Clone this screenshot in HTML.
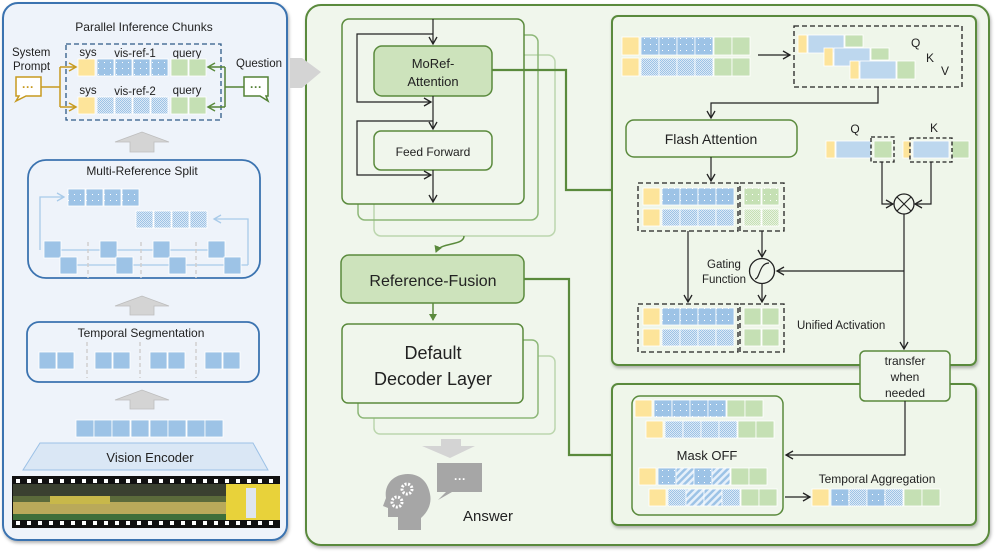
<!DOCTYPE html>
<html><head><meta charset="utf-8"><style>
html,body{margin:0;padding:0;background:#fff;}
svg{display:block;font-family:"Liberation Sans",sans-serif;}
</style></head><body>
<svg width="997" height="554" viewBox="0 0 997 554" xmlns="http://www.w3.org/2000/svg">
<defs>
<pattern id="pd" width="6" height="6" patternUnits="userSpaceOnUse"><rect width="6" height="6" fill="#9dc3e6"/><rect x="2" y="2" width="1" height="1" fill="#fff"/></pattern>
<pattern id="pc" width="2" height="2" patternUnits="userSpaceOnUse"><rect width="2" height="2" fill="#dce9f6"/><rect width="1" height="1" fill="#9dc3e6"/><rect x="1" y="1" width="1" height="1" fill="#9dc3e6"/></pattern>
<pattern id="ph" width="5" height="5" patternUnits="userSpaceOnUse" patternTransform="rotate(45)"><rect width="5" height="5" fill="#e6f0fa"/><rect width="2.5" height="5" fill="#9dc3e6"/></pattern>
<pattern id="gd" width="6" height="6" patternUnits="userSpaceOnUse"><rect width="6" height="6" fill="#c5e0b4"/><rect x="2" y="2" width="1" height="1" fill="#fff"/></pattern>
<pattern id="gc" width="2" height="2" patternUnits="userSpaceOnUse"><rect width="2" height="2" fill="#e8f2e0"/><rect width="1" height="1" fill="#c5e0b4"/><rect x="1" y="1" width="1" height="1" fill="#c5e0b4"/></pattern>
<marker id="ak" markerWidth="10" markerHeight="10" refX="8" refY="5" orient="auto" markerUnits="userSpaceOnUse"><path d="M1,1 L8,5 L1,9" fill="none" stroke="#222" stroke-width="1.3"/></marker>
<marker id="ao" markerWidth="10" markerHeight="10" refX="8" refY="5" orient="auto" markerUnits="userSpaceOnUse"><path d="M1,1 L8,5 L1,9" fill="none" stroke="#c79a1f" stroke-width="1.5"/></marker>
<marker id="ag" markerWidth="10" markerHeight="10" refX="8" refY="5" orient="auto" markerUnits="userSpaceOnUse"><path d="M1,1 L8,5 L1,9" fill="none" stroke="#5a8a3c" stroke-width="1.5"/></marker>
<marker id="ab" markerWidth="10" markerHeight="10" refX="8" refY="5" orient="auto" markerUnits="userSpaceOnUse"><path d="M1,1 L8,5 L1,9" fill="none" stroke="#a9cbe9" stroke-width="1.3"/></marker>
<marker id="agf" markerWidth="8" markerHeight="8" refX="6" refY="4" orient="auto" markerUnits="userSpaceOnUse"><path d="M0,0 L7,4 L0,8 z" fill="#5a8a3c"/></marker>
<filter id="sh" x="-5%" y="-5%" width="110%" height="110%"><feDropShadow dx="1" dy="2" stdDeviation="1.5" flood-color="#000" flood-opacity="0.3"/></filter>
</defs>

<!-- LEFT PANEL -->
<rect x="3" y="3" width="284" height="537" rx="15" fill="#eef3fa" stroke="#3b73b0" stroke-width="2" filter="url(#sh)"/>
<text x="144" y="31" font-size="12" text-anchor="middle" fill="#222">Parallel Inference Chunks</text>
<rect x="66" y="44" width="155" height="76" fill="none" stroke="#2e5a87" stroke-width="1.3" stroke-dasharray="5,3"/>
<g font-size="11.5" fill="#222">
<text x="88" y="56" text-anchor="middle">sys</text><text x="135" y="57" text-anchor="middle">vis-ref-1</text><text x="187" y="57" text-anchor="middle">query</text>
<text x="88" y="94" text-anchor="middle">sys</text><text x="135" y="95" text-anchor="middle">vis-ref-2</text><text x="187" y="94" text-anchor="middle">query</text>
</g>
<g stroke="#fff" stroke-width="0.8">
<rect x="78" y="59" width="17" height="17" fill="#fde49a"/>
<rect x="97" y="59" width="17" height="17" fill="url(#pd)"/><rect x="115" y="59" width="17" height="17" fill="url(#pd)"/><rect x="133" y="59" width="17" height="17" fill="url(#pd)"/><rect x="151" y="59" width="17" height="17" fill="url(#pd)"/>
<rect x="171" y="59" width="17" height="17" fill="#c5e0b4"/><rect x="189" y="59" width="17" height="17" fill="#c5e0b4"/>
<rect x="78" y="97" width="17" height="17" fill="#fde49a"/>
<rect x="97" y="97" width="17" height="17" fill="url(#pc)"/><rect x="115" y="97" width="17" height="17" fill="url(#pc)"/><rect x="133" y="97" width="17" height="17" fill="url(#pc)"/><rect x="151" y="97" width="17" height="17" fill="url(#pc)"/>
<rect x="171" y="97" width="17" height="17" fill="#c5e0b4"/><rect x="189" y="97" width="17" height="17" fill="#c5e0b4"/>
</g>
<text x="12" y="56" font-size="11.5" fill="#222">System</text>
<text x="13" y="70" font-size="11.5" fill="#222">Prompt</text>
<path d="M16,77 H41 V96 H26 L16,101 L19,96 H16 Z" fill="#fff" stroke="#c79a1f" stroke-width="1.5"/>
<text x="28" y="91" font-size="12" font-weight="bold" fill="#c79a1f" text-anchor="middle">···</text>
<path d="M41,87 H60 M60,67 V107" stroke="#c79a1f" stroke-width="1.5" fill="none"/>
<path d="M60,67 H76" stroke="#c79a1f" stroke-width="1.5" marker-end="url(#ao)"/>
<path d="M60,107 H76" stroke="#c79a1f" stroke-width="1.5" marker-end="url(#ao)"/>
<text x="236" y="67" font-size="11.5" fill="#222">Question</text>
<path d="M268,77 H244 V96 H260 L268,101 L266,96 H268 Z" fill="#fff" stroke="#548235" stroke-width="1.5"/>
<text x="256" y="91" font-size="12" font-weight="bold" fill="#548235" text-anchor="middle">···</text>
<path d="M244,87 H225 M225,67 V107" stroke="#548235" stroke-width="1.5" fill="none"/>
<path d="M225,67 H208" stroke="#548235" stroke-width="1.5" marker-end="url(#ag)"/>
<path d="M225,107 H208" stroke="#548235" stroke-width="1.5" marker-end="url(#ag)"/>

<!-- gray arrows -->
<g fill="#d4d4d4" stroke="#bdbdbd" stroke-width="0.8">
<path d="M115,142 L142,132 L169,142 H154 V152 H130 V142 Z"/>
<path d="M115,306 L142,296 L169,306 H154 V315 H130 V306 Z"/>
<path d="M115,400 L142,390 L169,400 H154 V409 H130 V400 Z"/>
</g>

<!-- Multi-Reference Split -->
<rect x="28" y="160" width="232" height="118" rx="18" fill="#eef3fa" stroke="#3b73b0" stroke-width="1.8"/>
<text x="142" y="175" font-size="12" text-anchor="middle" fill="#222">Multi-Reference Split</text>
<g stroke="#a9cbe9" stroke-width="1.3" fill="none">
<path d="M40,250 V197 H64" marker-end="url(#ab)"/>
<path d="M248,265 V219 H214" marker-end="url(#ab)"/>
<path d="M44,250 H225 M60,265 H248"/>
</g>
<g stroke="#d0d0d0" stroke-width="1.5" stroke-dasharray="4,3"><path d="M88,242 V278 M141,242 V278 M196,242 V278"/></g>
<g stroke="#fff" stroke-width="0.8">
<rect x="68" y="189" width="17" height="17" fill="url(#pd)"/><rect x="86" y="189" width="17" height="17" fill="url(#pd)"/><rect x="104" y="189" width="17" height="17" fill="url(#pd)"/><rect x="122" y="189" width="17" height="17" fill="url(#pd)"/>
<rect x="136" y="211" width="17" height="17" fill="url(#pc)"/><rect x="154" y="211" width="17" height="17" fill="url(#pc)"/><rect x="172" y="211" width="17" height="17" fill="url(#pc)"/><rect x="190" y="211" width="17" height="17" fill="url(#pc)"/>
<g fill="#9dc3e6">
<rect x="44" y="241" width="17" height="17"/><rect x="100" y="241" width="17" height="17"/><rect x="153" y="241" width="17" height="17"/><rect x="208" y="241" width="17" height="17"/>
<rect x="60" y="257" width="17" height="17"/><rect x="116" y="257" width="17" height="17"/><rect x="169" y="257" width="17" height="17"/><rect x="224" y="257" width="17" height="17"/>
</g></g>

<!-- Temporal Segmentation -->
<rect x="27" y="322" width="232" height="60" rx="12" fill="#eef3fa" stroke="#3b73b0" stroke-width="1.8"/>
<text x="141" y="337" font-size="12" text-anchor="middle" fill="#222">Temporal Segmentation</text>
<g stroke="#d0d0d0" stroke-width="1.5" stroke-dasharray="4,3"><path d="M87,342 V378 M140,342 V378 M196,342 V378"/></g>
<g stroke="#fff" stroke-width="0.8" fill="#9dc3e6">
<rect x="39" y="352" width="17" height="17"/><rect x="57" y="352" width="17" height="17"/>
<rect x="95" y="352" width="17" height="17"/><rect x="113" y="352" width="17" height="17"/>
<rect x="150" y="352" width="17" height="17"/><rect x="168" y="352" width="17" height="17"/>
<rect x="205" y="352" width="17" height="17"/><rect x="223" y="352" width="17" height="17"/>
<rect x="76" y="420" width="18" height="17"/><rect x="94" y="420" width="18" height="17"/><rect x="112" y="420" width="18" height="17"/><rect x="131" y="420" width="18" height="17"/><rect x="150" y="420" width="18" height="17"/><rect x="168" y="420" width="18" height="17"/><rect x="187" y="420" width="18" height="17"/><rect x="205" y="420" width="18" height="17"/>
</g>
<path d="M40,443 H253 L268,470 H23 Z" fill="#dae7f5" stroke="#9cc1e6" stroke-width="1"/>
<text x="150" y="462" font-size="13" text-anchor="middle" fill="#222">Vision Encoder</text>
<!-- film strip -->
<rect x="12" y="476" width="268" height="52" fill="#111"/>
<rect x="13" y="484" width="213" height="36" fill="#5b6a3b"/>
<rect x="13" y="484" width="213" height="12" fill="#3a4030"/>
<rect x="13" y="502" width="213" height="12" fill="#b9a95a"/>
<rect x="50" y="496" width="60" height="8" fill="#c8b84a"/>
<rect x="13" y="514" width="213" height="6" fill="#3e6e3a"/>
<rect x="226" y="484" width="54" height="36" fill="#e8d23a"/>
<rect x="246" y="488" width="10" height="30" fill="#dfe6ee"/>
<g fill="#fff">
<rect x="16" y="479" width="4" height="4"/><rect x="27" y="479" width="4" height="4"/><rect x="38" y="479" width="4" height="4"/><rect x="49" y="479" width="4" height="4"/><rect x="60" y="479" width="4" height="4"/><rect x="71" y="479" width="4" height="4"/><rect x="82" y="479" width="4" height="4"/><rect x="93" y="479" width="4" height="4"/><rect x="104" y="479" width="4" height="4"/><rect x="115" y="479" width="4" height="4"/><rect x="126" y="479" width="4" height="4"/><rect x="137" y="479" width="4" height="4"/><rect x="148" y="479" width="4" height="4"/><rect x="159" y="479" width="4" height="4"/><rect x="170" y="479" width="4" height="4"/><rect x="181" y="479" width="4" height="4"/><rect x="192" y="479" width="4" height="4"/><rect x="203" y="479" width="4" height="4"/><rect x="214" y="479" width="4" height="4"/><rect x="225" y="479" width="4" height="4"/><rect x="236" y="479" width="4" height="4"/><rect x="247" y="479" width="4" height="4"/><rect x="258" y="479" width="4" height="4"/><rect x="269" y="479" width="4" height="4"/>
<rect x="16" y="521" width="4" height="4"/><rect x="27" y="521" width="4" height="4"/><rect x="38" y="521" width="4" height="4"/><rect x="49" y="521" width="4" height="4"/><rect x="60" y="521" width="4" height="4"/><rect x="71" y="521" width="4" height="4"/><rect x="82" y="521" width="4" height="4"/><rect x="93" y="521" width="4" height="4"/><rect x="104" y="521" width="4" height="4"/><rect x="115" y="521" width="4" height="4"/><rect x="126" y="521" width="4" height="4"/><rect x="137" y="521" width="4" height="4"/><rect x="148" y="521" width="4" height="4"/><rect x="159" y="521" width="4" height="4"/><rect x="170" y="521" width="4" height="4"/><rect x="181" y="521" width="4" height="4"/><rect x="192" y="521" width="4" height="4"/><rect x="203" y="521" width="4" height="4"/><rect x="214" y="521" width="4" height="4"/><rect x="225" y="521" width="4" height="4"/><rect x="236" y="521" width="4" height="4"/><rect x="247" y="521" width="4" height="4"/><rect x="258" y="521" width="4" height="4"/><rect x="269" y="521" width="4" height="4"/>
</g>

<!-- RIGHT PANEL -->
<rect x="306" y="5" width="683" height="540" rx="15" fill="#f0f6ec" stroke="#5a8a3c" stroke-width="2" filter="url(#sh)"/>
<!-- big gray arrow between panels (on top) -->
<path d="M290,58 H302 L321,72 L302,88 H290 Z" fill="#d4d4d4"/>
<rect x="374" y="55" width="181" height="181" rx="7" fill="none" stroke="#bcd6ae" stroke-width="1.5"/>
<rect x="358" y="35" width="180" height="185" rx="7" fill="none" stroke="#8db778" stroke-width="1.5"/>
<rect x="342" y="19" width="182" height="185" rx="7" fill="#f0f6ec" stroke="#5a8a3c" stroke-width="1.5"/>
<rect x="374" y="46" width="118" height="50" rx="8" fill="#cde3bc" stroke="#5a8a3c" stroke-width="1.5"/>
<text x="433" y="68" font-size="13" text-anchor="middle" fill="#222">MoRef-</text>
<text x="433" y="86" font-size="13" text-anchor="middle" fill="#222">Attention</text>
<rect x="374" y="131" width="118" height="39" rx="7" fill="#f0f6ec" stroke="#5a8a3c" stroke-width="1.5"/>
<text x="433" y="156" font-size="12" text-anchor="middle" fill="#222">Feed Forward</text>
<g stroke="#222" stroke-width="1.2" fill="none">
<path d="M433,19 V44" marker-end="url(#ak)"/>
<path d="M433,96 V129" marker-end="url(#ak)"/>
<path d="M433,170 V202" marker-end="url(#ak)"/>
<path d="M433,34 H357 V102 H431" marker-end="url(#ak)"/>
<path d="M433,121 H357 V175 H431" marker-end="url(#ak)"/>
</g>
<path d="M464,236 C464,246 440,242 436,252" stroke="#5a8a3c" stroke-width="1.5" fill="none" marker-end="url(#agf)"/>
<rect x="341" y="255" width="183" height="48" rx="8" fill="#cde3bc" stroke="#5a8a3c" stroke-width="1.5"/>
<text x="433" y="286" font-size="16" text-anchor="middle" fill="#222">Reference-Fusion</text>
<path d="M433,303 V320" stroke="#5a8a3c" stroke-width="1.5" marker-end="url(#agf)"/>
<rect x="374" y="356" width="181" height="78" rx="6" fill="none" stroke="#bcd6ae" stroke-width="1.5"/>
<rect x="358" y="340" width="180" height="78" rx="6" fill="#f0f6ec" stroke="#8db778" stroke-width="1.5"/>
<rect x="342" y="324" width="181" height="79" rx="6" fill="#f0f6ec" stroke="#5a8a3c" stroke-width="1.5"/>
<text x="433" y="359" font-size="18" text-anchor="middle" fill="#222">Default</text>
<text x="433" y="385" font-size="18" text-anchor="middle" fill="#222">Decoder Layer</text>
<path d="M441,439 H461 V446 H475 L450,458 L422,446 H441 Z" fill="#d4d4d4"/>
<!-- head icon -->
<path d="M408,474 C392,474 384,486 386,498 L383,506 L388,508 V517 H398 V530 H421 V518 C428,512 432,503 430,494 C428,482 420,474 408,474 Z" fill="#a6a6a6"/>
<circle cx="407" cy="489" r="5" fill="none" stroke="#fff" stroke-width="3" stroke-dasharray="2,1.5"/>
<circle cx="397" cy="502" r="5" fill="none" stroke="#fff" stroke-width="3" stroke-dasharray="2,1.5"/>
<path d="M437,463 H482 V492 H452 L438,500 L446,492 H437 Z" fill="#a6a6a6"/>
<text x="460" y="483" font-size="12" font-weight="bold" text-anchor="middle" fill="#fff">···</text>
<text x="463" y="521" font-size="15" fill="#222">Answer</text>

<!-- green connectors -->
<path d="M492,70 H566 V190 H612" stroke="#5a8a3c" stroke-width="2.2" fill="none"/>
<path d="M524,279 H569 V455 H612" stroke="#5a8a3c" stroke-width="2.2" fill="none"/>

<!-- inner top panel -->
<rect x="612" y="16" width="364" height="349" rx="6" fill="#eff6ea" stroke="#5a8a3c" stroke-width="2" filter="url(#sh)"/>
<g stroke="#fff" stroke-width="0.8">
<rect x="622" y="37" width="17" height="18" fill="#fde49a"/>
<rect x="641" y="37" width="18" height="18" fill="url(#pd)"/><rect x="659" y="37" width="18" height="18" fill="url(#pd)"/><rect x="677" y="37" width="18" height="18" fill="url(#pd)"/><rect x="695" y="37" width="18" height="18" fill="url(#pd)"/>
<rect x="714" y="37" width="18" height="18" fill="#c5e0b4"/><rect x="732" y="37" width="18" height="18" fill="#c5e0b4"/>
<rect x="622" y="58" width="17" height="18" fill="#fde49a"/>
<rect x="641" y="58" width="18" height="18" fill="url(#pc)"/><rect x="659" y="58" width="18" height="18" fill="url(#pc)"/><rect x="677" y="58" width="18" height="18" fill="url(#pc)"/><rect x="695" y="58" width="18" height="18" fill="url(#pc)"/>
<rect x="714" y="58" width="18" height="18" fill="#c5e0b4"/><rect x="732" y="58" width="18" height="18" fill="#c5e0b4"/>
</g>
<path d="M758,55 H790" stroke="#222" stroke-width="1.2" marker-end="url(#ak)"/>
<rect x="794" y="26" width="168" height="61" fill="none" stroke="#222" stroke-width="1.3" stroke-dasharray="5,3"/>
<g stroke="#fff" stroke-width="0.8">
<rect x="798" y="35" width="9" height="18" fill="#fde49a"/><rect x="808" y="35" width="36" height="18" fill="#bdd7ee"/><rect x="845" y="35" width="18" height="12" fill="#c5e0b4"/>
<rect x="824" y="48" width="9" height="18" fill="#fde49a"/><rect x="834" y="48" width="36" height="18" fill="#bdd7ee"/><rect x="871" y="48" width="18" height="12" fill="#c5e0b4"/>
<rect x="850" y="61" width="9" height="18" fill="#fde49a"/><rect x="860" y="61" width="36" height="18" fill="#bdd7ee"/><rect x="897" y="61" width="18" height="18" fill="#c5e0b4"/>
</g>
<g font-size="12" fill="#222"><text x="911" y="47">Q</text><text x="926" y="62">K</text><text x="941" y="75">V</text></g>
<path d="M878,87 V103 H711 V118" stroke="#222" stroke-width="1.2" fill="none" marker-end="url(#ak)"/>
<rect x="626" y="120" width="171" height="37" rx="8" fill="#f0f6ec" stroke="#5a8a3c" stroke-width="1.5"/>
<text x="711" y="144" font-size="14" text-anchor="middle" fill="#222">Flash Attention</text>
<path d="M711,157 V181" stroke="#222" stroke-width="1.2" marker-end="url(#ak)"/>
<!-- flash output -->
<g stroke="#fff" stroke-width="0.8">
<rect x="643" y="188" width="17" height="17" fill="#fde49a"/>
<rect x="662" y="188" width="18" height="17" fill="url(#pd)"/><rect x="680" y="188" width="18" height="17" fill="url(#pd)"/><rect x="698" y="188" width="18" height="17" fill="url(#pd)"/><rect x="716" y="188" width="18" height="17" fill="url(#pd)"/>
<rect x="643" y="209" width="17" height="17" fill="#fde49a"/>
<rect x="662" y="209" width="18" height="17" fill="url(#pc)"/><rect x="680" y="209" width="18" height="17" fill="url(#pc)"/><rect x="698" y="209" width="18" height="17" fill="url(#pc)"/><rect x="716" y="209" width="18" height="17" fill="url(#pc)"/>
<rect x="744" y="188" width="17" height="17" fill="url(#gd)"/><rect x="762" y="188" width="17" height="17" fill="url(#gd)"/>
<rect x="744" y="209" width="17" height="17" fill="url(#gc)"/><rect x="762" y="209" width="17" height="17" fill="url(#gc)"/>
<rect x="643" y="308" width="17" height="17" fill="#fde49a"/>
<rect x="662" y="308" width="18" height="17" fill="url(#pd)"/><rect x="680" y="308" width="18" height="17" fill="url(#pd)"/><rect x="698" y="308" width="18" height="17" fill="url(#pd)"/><rect x="716" y="308" width="18" height="17" fill="url(#pd)"/>
<rect x="643" y="329" width="17" height="17" fill="#fde49a"/>
<rect x="662" y="329" width="18" height="17" fill="url(#pc)"/><rect x="680" y="329" width="18" height="17" fill="url(#pc)"/><rect x="698" y="329" width="18" height="17" fill="url(#pc)"/><rect x="716" y="329" width="18" height="17" fill="url(#pc)"/>
<rect x="744" y="308" width="17" height="17" fill="#c5e0b4"/><rect x="762" y="308" width="17" height="17" fill="#c5e0b4"/>
<rect x="744" y="329" width="17" height="17" fill="#c5e0b4"/><rect x="762" y="329" width="17" height="17" fill="#c5e0b4"/>
</g>
<g fill="none" stroke="#222" stroke-width="1.3" stroke-dasharray="5,3">
<rect x="638" y="183" width="100" height="48"/><rect x="740" y="183" width="44" height="48"/>
<rect x="638" y="304" width="100" height="48"/><rect x="740" y="304" width="44" height="48"/>
</g>
<g stroke="#222" stroke-width="1.2" fill="none">
<path d="M688,231 V302" marker-end="url(#ak)"/>
<path d="M762,231 V257" marker-end="url(#ak)"/>
<path d="M762,284 V302" marker-end="url(#ak)"/>
<path d="M904,271 H777" marker-end="url(#ak)"/>
</g>
<circle cx="762" cy="271" r="12.5" fill="#f0f6ec" stroke="#222" stroke-width="1.3"/>
<path d="M755,279 C760,279 759,263 769,263" fill="none" stroke="#222" stroke-width="1.2"/>
<text x="724" y="268" font-size="11.5" text-anchor="middle" fill="#222">Gating</text>
<text x="724" y="283" font-size="11.5" text-anchor="middle" fill="#222">Function</text>
<text x="797" y="329" font-size="11.5" fill="#222">Unified Activation</text>
<!-- Q K -->
<text x="855" y="133" font-size="12" text-anchor="middle" fill="#222">Q</text>
<text x="934" y="132" font-size="12" text-anchor="middle" fill="#222">K</text>
<g stroke="#fff" stroke-width="0.8">
<rect x="826" y="141" width="9" height="17" fill="#fde49a"/><rect x="836" y="141" width="35" height="17" fill="#bdd7ee"/><rect x="874" y="141" width="18" height="17" fill="#c5e0b4"/>
<rect x="903" y="141" width="8" height="17" fill="#fde49a"/><rect x="913" y="141" width="36" height="17" fill="#bdd7ee"/><rect x="952" y="141" width="17" height="17" fill="#c5e0b4"/>
</g>
<g fill="none" stroke="#222" stroke-width="1.3" stroke-dasharray="4,2.5">
<rect x="871" y="137" width="23" height="25"/><rect x="910" y="138" width="42" height="24"/>
</g>
<g stroke="#222" stroke-width="1.2" fill="none">
<path d="M882,162 V204 H893" marker-end="url(#ak)"/>
<path d="M931,162 V204 H915" marker-end="url(#ak)"/>
<path d="M904,214 V349" marker-end="url(#ak)"/>
</g>
<circle cx="904" cy="204" r="10" fill="#f0f6ec" stroke="#222" stroke-width="1.3"/>
<path d="M897,197 L911,211 M911,197 L897,211" stroke="#222" stroke-width="1.2"/>

<!-- inner bottom panel -->
<rect x="612" y="384" width="364" height="141" rx="6" fill="#eff6ea" stroke="#5a8a3c" stroke-width="2" filter="url(#sh)"/>
<rect x="860" y="351" width="90" height="50" rx="5" fill="#f0f6ec" stroke="#5a8a3c" stroke-width="1.5"/>
<text x="905" y="365" font-size="12" text-anchor="middle" fill="#222">transfer</text>
<text x="905" y="381" font-size="12" text-anchor="middle" fill="#222">when</text>
<text x="905" y="397" font-size="12" text-anchor="middle" fill="#222">needed</text>
<path d="M905,401 V455 H786" stroke="#222" stroke-width="1.2" fill="none" marker-end="url(#ak)"/>
<rect x="632" y="396" width="151" height="119" rx="8" fill="#f0f6ec" stroke="#5a8a3c" stroke-width="1.5"/>
<g stroke="#fff" stroke-width="0.8">
<rect x="635" y="400" width="17" height="17" fill="#fde49a"/>
<rect x="654" y="400" width="18" height="17" fill="url(#pd)"/><rect x="672" y="400" width="18" height="17" fill="url(#pd)"/><rect x="690" y="400" width="18" height="17" fill="url(#pd)"/><rect x="708" y="400" width="18" height="17" fill="url(#pd)"/>
<rect x="727" y="400" width="18" height="17" fill="#c5e0b4"/><rect x="745" y="400" width="18" height="17" fill="#c5e0b4"/>
<rect x="646" y="421" width="17" height="17" fill="#fde49a"/>
<rect x="665" y="421" width="18" height="17" fill="url(#pc)"/><rect x="683" y="421" width="18" height="17" fill="url(#pc)"/><rect x="701" y="421" width="18" height="17" fill="url(#pc)"/><rect x="719" y="421" width="18" height="17" fill="url(#pc)"/>
<rect x="738" y="421" width="18" height="17" fill="#c5e0b4"/><rect x="756" y="421" width="18" height="17" fill="#c5e0b4"/>
<rect x="639" y="468" width="17" height="17" fill="#fde49a"/>
<rect x="658" y="468" width="18" height="17" fill="url(#pd)"/><rect x="676" y="468" width="18" height="17" fill="url(#ph)"/><rect x="694" y="468" width="18" height="17" fill="url(#pd)"/><rect x="712" y="468" width="18" height="17" fill="url(#ph)"/>
<rect x="731" y="468" width="18" height="17" fill="#c5e0b4"/><rect x="749" y="468" width="18" height="17" fill="#c5e0b4"/>
<rect x="649" y="489" width="17" height="17" fill="#fde49a"/>
<rect x="668" y="489" width="18" height="17" fill="url(#pc)"/><rect x="686" y="489" width="18" height="17" fill="url(#ph)"/><rect x="704" y="489" width="18" height="17" fill="url(#ph)"/><rect x="722" y="489" width="18" height="17" fill="url(#pc)"/>
<rect x="741" y="489" width="18" height="17" fill="#c5e0b4"/><rect x="759" y="489" width="18" height="17" fill="#c5e0b4"/>
<rect x="812" y="489" width="17" height="17" fill="#fde49a"/>
<rect x="831" y="489" width="18" height="17" fill="url(#pd)"/><rect x="849" y="489" width="18" height="17" fill="url(#pc)"/><rect x="867" y="489" width="18" height="17" fill="url(#pd)"/><rect x="885" y="489" width="18" height="17" fill="url(#pc)"/>
<rect x="904" y="489" width="18" height="17" fill="#c5e0b4"/><rect x="922" y="489" width="18" height="17" fill="#c5e0b4"/>
</g>
<text x="707" y="460" font-size="13" text-anchor="middle" fill="#222">Mask OFF</text>
<text x="877" y="483" font-size="12" text-anchor="middle" fill="#222">Temporal Aggregation</text>
<path d="M785,497 H810" stroke="#222" stroke-width="1.2" marker-end="url(#ak)"/>
</svg>
</body></html>
